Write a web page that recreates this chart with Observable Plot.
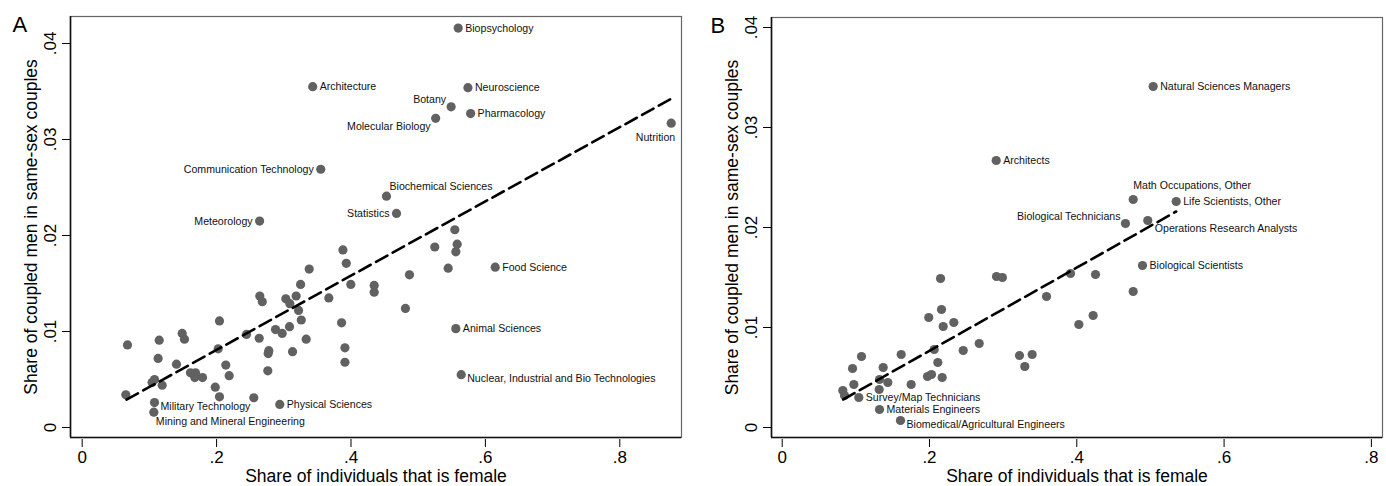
<!DOCTYPE html>
<html><head><meta charset="utf-8">
<script src="https://cdn.jsdelivr.net/npm/d3@7"></script>
<script src="https://cdn.jsdelivr.net/npm/@observablehq/plot@0.6"></script>
<style>
body{margin:0;background:#fff;}
#wrap{display:flex;width:1386px;height:486px;}
#wrap > div{width:693px;height:486px;}
</style></head><body><div id="wrap"><div id="a"></div><div id="b"></div></div>
<script>
const xTicks = [0, 0.2, 0.4, 0.6, 0.8];
const yTicks = [0, 0.01, 0.02, 0.03, 0.04];
const xTitle = "Share of individuals that is female";
const yTitle = "Share of coupled men in same-sex couples";

// Panel A: fields of degree
const aFemale = [0.5595,0.343,0.574,0.549,0.578,0.526,0.8765,0.355,0.4528,0.4677,0.264,0.6146,0.556,0.564,0.294,0.1076,0.1066,
  0.5545,0.558,0.556,0.5247,0.388,0.393,0.5446,0.487,0.3997,0.4345,0.4345,0.367,0.481,0.386,0.391,0.391,
  0.3378,0.325,0.3184,0.303,0.309,0.322,0.326,0.2643,0.268,0.2877,0.2976,0.3085,0.3333,0.2634,0.2445,0.2777,0.2768,0.313,0.2762,0.2554,
  0.2043,0.2024,0.2137,0.2187,0.198,0.2043,0.1488,0.1522,0.1146,0.113,0.0674,0.1403,0.1611,0.1686,0.1676,0.179,0.104,0.1076,0.119,0.0649];
const aSameSex = [0.0416,0.0355,0.0354,0.0334,0.0327,0.0322,0.0317,0.0269,0.0241,0.0223,0.0215,0.0167,0.0103,0.0055,0.0024,0.0026,0.0016,
  0.0206,0.0191,0.0183,0.0188,0.0185,0.0171,0.0166,0.0159,0.0149,0.0148,0.0141,0.0135,0.0124,0.0109,0.0083,0.0068,
  0.0165,0.0149,0.0137,0.0134,0.0129,0.0122,0.0112,0.0137,0.0131,0.0102,0.0098,0.0105,0.0092,0.0093,0.0097,0.0080,0.0077,0.0079,0.0059,0.0031,
  0.0111,0.0082,0.0065,0.0054,0.0042,0.0032,0.0098,0.0092,0.0091,0.0072,0.0086,0.0066,0.0057,0.0057,0.0052,0.0052,0.0047,0.0050,0.0044,0.0034];
const aLabel = ["Biopsychology","Architecture","Neuroscience","Botany","Pharmacology","Molecular Biology","Nutrition",
  "Communication Technology","Biochemical Sciences","Statistics","Meteorology","Food Science","Animal Sciences",
  "Nuclear, Industrial and Bio Technologies","Physical Sciences","Military Technology","Mining and Mineral Engineering"];
const aLabelPos = [3,3,3,10,3,8,7,9,1,9,9,3,3,4,3,4,6];
const aFitFemale = [0.066, 0.878];
const aFitSameSex = [0.0029, 0.0343];

// Panel B: occupations
const bFemale = [0.5037,0.2906,0.4766,0.535,0.4661,0.4964,0.4892,0.104,0.1321,0.1606,
  0.3915,0.4254,0.4766,0.3589,0.4222,0.4028,0.3394,0.3222,0.3294,0.291,0.299,0.215,0.2163,0.199,0.233,0.2186,
  0.2675,0.2458,0.2064,0.2113,0.1973,0.2027,0.2172,0.1616,0.1751,0.1371,0.1321,0.1434,0.1317,0.1077,0.0955,0.0973,0.0823,0.0846];
const bSameSex = [0.0341,0.0267,0.0228,0.0226,0.0204,0.0207,0.0162,0.0030,0.0018,0.0007,
  0.0154,0.0153,0.0136,0.0131,0.0112,0.0103,0.0073,0.0072,0.0061,0.0151,0.0150,0.0149,0.0118,0.0110,0.0105,0.0101,
  0.0084,0.0077,0.0078,0.0065,0.0051,0.0053,0.0050,0.0073,0.0043,0.0060,0.0048,0.0045,0.0038,0.0071,0.0059,0.0043,0.0037,0.0032];
const bLabel = ["Natural Sciences Managers","Architects","Math Occupations, Other","Life Scientists, Other",
  "Biological Technicians","Operations Research Analysts","Biological Scientists","Survey/Map Technicians",
  "Materials Engineers","Biomedical/Agricultural Engineers"];
const bLabelPos = [3,3,12,3,10,5,3,3,3,4];
const bFitFemale = [0.0828, 0.535];
const bFitSameSex = [0.0028, 0.0216];

// label placement (clock-position style): [dx, dy, textAnchor]
const offsets = {1:[3,-10,"start"],3:[7,0,"start"],4:[6,4,"start"],5:[7,8,"start"],6:[2,9,"start"],
  7:[4,14,"end"],8:[-5,8,"end"],9:[-7,0,"end"],10:[-5,-7,"end"],12:[0,-14,"start"]};

const fmt = d => d === 0 ? "0" : String(d).replace(/^0/, "");
const font = "'Liberation Sans', Arial, Helvetica, sans-serif";

function panel({female, sameSex, label, pos, fitF, fitS, xDom, yDom, mL, mR, mT, letter, letterDx}) {
  const pts = female.map((x, i) => ({x, y: sameSex[i], label: label[i] || "", pos: pos[i]}));
  const fit = fitF.map((x, i) => ({x, y: fitS[i]}));
  const labelMarks = Object.entries(offsets).map(([code, [dx, dy, anchor]]) =>
    Plot.text(pts, {filter: d => d.label && String(d.pos) === code, x: "x", y: "y", text: "label",
      dx, dy, textAnchor: anchor, fontSize: 10.6, fill: "#111"}));
  return Plot.plot({
    width: 693, height: 486, marginLeft: mL, marginRight: mR, marginTop: mT, marginBottom: 49,
    style: {fontFamily: font, fontSize: "17px", color: "#000", background: "#fff"},
    x: {domain: xDom, label: null},
    y: {domain: yDom, label: null},
    marks: [
      Plot.frame({stroke: "#666", strokeWidth: 1.2}),
      Plot.ruleX([xDom[0]], {stroke: "#111", strokeWidth: 1.6}),
      Plot.ruleY([yDom[0]], {stroke: "#111", strokeWidth: 1.6}),
      Plot.axisX({ticks: xTicks, tickSize: 8, tickPadding: 3, dy: 2, tickFormat: fmt, label: null, fontSize: 17}),
      Plot.axisY({ticks: yTicks, tickSize: 8, tickFormat: () => "", label: null}),
      Plot.text(yTicks, {frameAnchor: "left", y: d => d, text: fmt, rotate: -90, dx: -19.5,
        textAnchor: "middle", lineAnchor: "middle", fontSize: 17}),
      Plot.text([yTitle], {frameAnchor: "left", dx: -39, rotate: -90, textAnchor: "middle", lineAnchor: "middle", fontSize: 17.5}),
      Plot.text([xTitle], {frameAnchor: "bottom", dy: 39, textAnchor: "middle", lineAnchor: "middle", fontSize: 17.5}),
      Plot.text([letter], {frameAnchor: "top-left", dx: letterDx, textAnchor: "start", lineAnchor: "top", fontSize: 22}),
      Plot.dot(pts, {x: "x", y: "y", r: 4.6, fill: "#616161"}),
      Plot.line(fit, {x: "x", y: "y", stroke: "#000", strokeWidth: 2.6, strokeDasharray: "13,6"}),
      ...labelMarks
    ]
  });
}

document.getElementById("a").append(panel({
  female: aFemale, sameSex: aSameSex, label: aLabel, pos: aLabelPos, fitF: aFitFemale, fitS: aFitSameSex,
  xDom: [-0.0174, 0.8918], yDom: [-0.00104, 0.04281], mL: 70, mR: 12, mT: 16, letter: "A", letterDx: -58
}));
document.getElementById("b").append(panel({
  female: bFemale, sameSex: bSameSex, label: bLabel, pos: bLabelPos, fitF: bFitFemale, fitS: bFitSameSex,
  xDom: [-0.01453, 0.8151], yDom: [-0.001, 0.041], mL: 78, mR: 4, mT: 17, letter: "B", letterDx: -61
}));
</script></body></html>
